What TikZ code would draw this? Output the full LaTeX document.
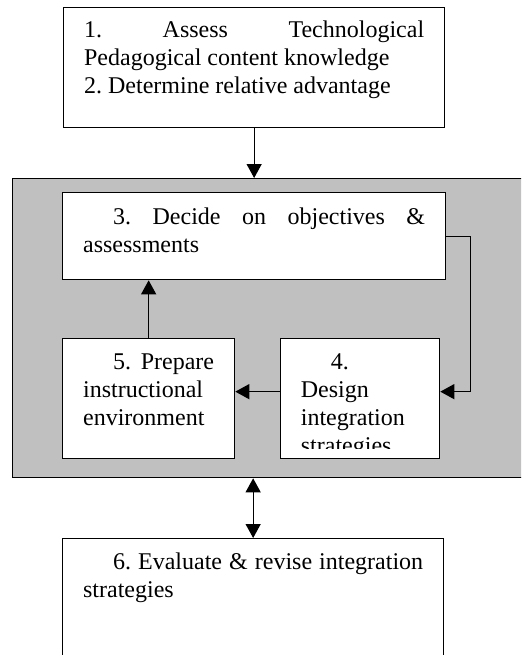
\documentclass[tikz,border=0pt]{standalone}
\usepackage{fontspec}
\setmainfont{Liberation Serif}
\usetikzlibrary{arrows.meta,calc}
\definecolor{panelgray}{RGB}{192,192,192}
\tolerance=10000
\hyphenpenalty=10000
\frenchspacing

\begin{document}
\begin{tikzpicture}[x=0.5pt,y=-0.5pt,
	boxtext/.style={align=justify,anchor=north west,inner xsep=10.25pt,inner ysep=0pt,
		font=\fontsize{12}{14}\selectfont},
	stepbox/.style={boxtext,draw,fill=white,line width=0.65pt},
	arr/.style={-{Triangle[length=7pt,width=7.5pt]},line width=0.6pt},
	biarr/.style={{Triangle[length=7pt,width=7.5pt]}-{Triangle[length=7pt,width=7.5pt]},line width=0.6pt}]
	\useasboundingbox (0,0) rectangle (521,655);
	\clip (0,0) rectangle (521,655);
	\node[stepbox,text width=170pt,text height=15pt,text depth=45pt] (assess) at (63,7)
	{1. Assess Technological Pedagogical content knowledge\par 2. Determine relative advantage};
	\node[draw,fill=panelgray,line width=0.65pt,anchor=north west,inner sep=0pt,
	minimum width=264pt,minimum height=149.5pt] (panel) at (12,178) {};
	\node[stepbox,text width=171pt,text height=16pt,text depth=27.5pt] (decide) at (62,192)
	{\hspace*{15pt}3. Decide on objectives \& assessments};
	\node[stepbox,text width=65.5pt,text height=15.5pt,text depth=44.5pt] (prepare) at (62,338)
	{\hspace*{15pt}5. Prepare instructional environment};
	\node[stepbox,text width=59pt,text height=15.5pt,text depth=44.5pt] (design) at (280,338) {};
	\begin{scope}
		\clip (280,338) rectangle (439,448);
		\node[boxtext,text width=59pt,text height=15.5pt,text depth=44.5pt] (designtext) at (280,338)
		{\hspace*{15pt}4. Design integration strategies};
	\end{scope}
	\node[stepbox,text width=170pt,text height=15.5pt,text depth=80pt] (evaluate) at (62,538)
	{\hspace*{15pt}6. Evaluate \& revise integration strategies};
	% arrows
	\draw[arr] (assess.south) -- (assess.south |- panel.north);
	\draw[arr] (decide.east) -- ++(24,0) |- ([yshift=3.5pt]design.east);
	\draw[arr] ([yshift=3.5pt]design.west) -- ([yshift=3.5pt]prepare.east);
	\draw[arr] (prepare.north) -- (prepare.north |- decide.south);
	\draw[biarr] (evaluate.north |- panel.south) -- (evaluate.north);
\end{tikzpicture}
\end{document}
